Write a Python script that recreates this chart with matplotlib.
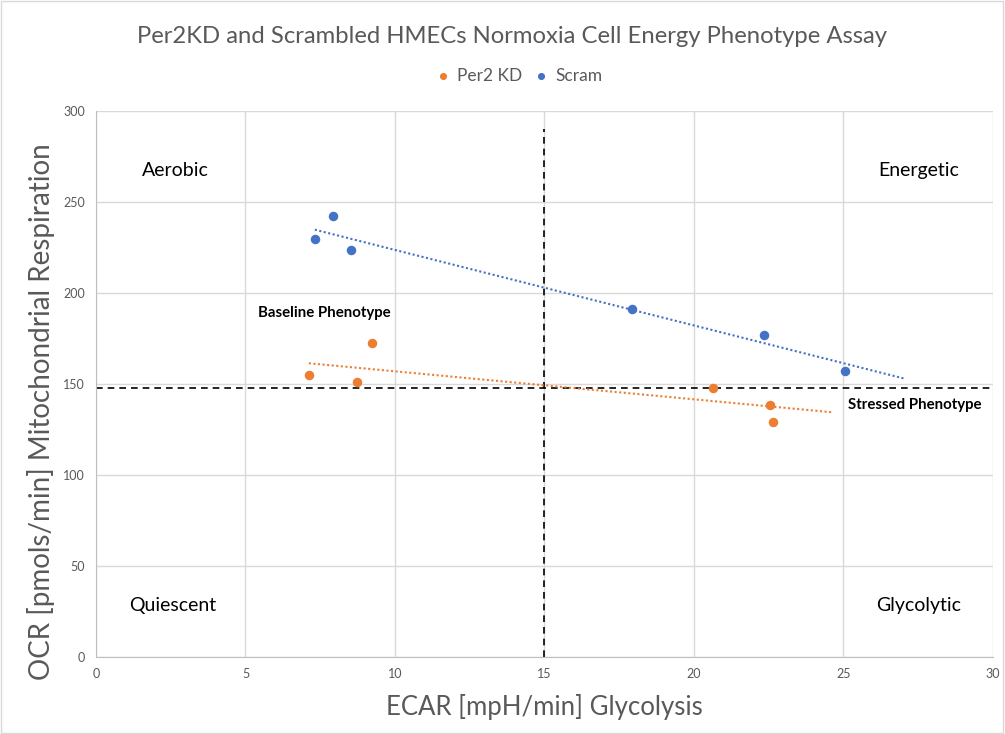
import numpy as np
import matplotlib.pyplot as plt
from matplotlib.patches import Rectangle

plt.rcParams['font.family'] = ['Lato', 'DejaVu Sans']

# values
scram_ecar = [7.32, 7.93, 8.53, 17.93, 22.34, 25.05]
scram_ocr = [229.7, 242.3, 223.6, 191.2, 176.9, 157.1]
per2_ecar = [7.12, 8.73, 9.23, 20.64, 22.54, 22.64]
per2_ocr = [154.9, 151.1, 172.5, 147.8, 138.5, 129.1]

baseline_ecar = 15.0
baseline_ocr = 147.5
forecast = 2.0

orange = '#ED7D31'
blue = '#4472C4'
grey = '#595959'

fig = plt.figure(figsize=(10.05, 7.34), dpi=100)
ax = fig.add_axes([0.0955, 0.105, 0.8925, 0.744])
fig.patches.append(Rectangle((0.001, 0.001), 0.997, 0.997, transform=fig.transFigure,
                             fill=False, edgecolor='#d9d9d9', linewidth=1))

ax.scatter(per2_ecar, per2_ocr, s=34, color=orange, label='Per2 KD', zorder=4)
ax.scatter(scram_ecar, scram_ocr, s=34, color=blue, label='Scram', zorder=4)

# linear trendlines, extended forward like Excel's forecast
for xs, ys, c in [(scram_ecar, scram_ocr, blue), (per2_ecar, per2_ocr, orange)]:
    m, b = np.polyfit(xs, ys, 1)
    tx = np.array([min(xs), max(xs) + forecast])
    ax.plot(tx, m * tx + b, linestyle=(0, (1, 1.2)), color=c, linewidth=1.5, zorder=3)

ax.axvline(baseline_ecar, ymin=0, ymax=290 / 300, color='black', linestyle=(0, (4, 3)), linewidth=1.2, zorder=2)
ax.axhline(baseline_ocr, color='black', linestyle=(0, (4, 3)), linewidth=1.2, zorder=2)

ax.set_xlim(0, 30)
ax.set_ylim(0, 300)
ax.set_xticks(range(0, 31, 5))
ax.set_yticks(range(0, 301, 50))
ax.grid(True, color='#d9d9d9', linewidth=1)
ax.set_axisbelow(True)
for s in ['top', 'right']:
    ax.spines[s].set_visible(False)
for s in ['left', 'bottom']:
    ax.spines[s].set_color('#bfbfbf')
ax.tick_params(length=0, labelsize=9, colors=grey, pad=8)

ax.text(2.67, 267, 'Aerobic', fontsize=14, ha='center', va='center')
ax.text(27.5, 267, 'Energetic', fontsize=14, ha='center', va='center')
ax.text(2.57, 28.5, 'Quiescent', fontsize=14, ha='center', va='center')
ax.text(27.5, 28.5, 'Glycolytic', fontsize=14, ha='center', va='center')
ax.text(7.63, 189, 'Baseline Phenotype', fontsize=10.8, fontweight='bold', ha='center', va='center')
ax.text(27.4, 138.5, 'Stressed Phenotype', fontsize=10.8, fontweight='bold', ha='center', va='center')

ax.set_xlabel('ECAR [mpH/min] Glycolysis', fontsize=18.5, color=grey)
ax.xaxis.set_label_coords(0.5, -0.068)
ax.set_ylabel('OCR [pmols/min] Mitochondrial Respiration', fontsize=20, color=grey)
ax.yaxis.set_label_coords(-0.046, 0.45)
fig.suptitle('Per2KD and Scrambled HMECs Normoxia Cell Energy Phenotype Assay',
             fontsize=17.2, color=grey, x=0.509, y=0.965)

ax.legend(loc='center', bbox_to_anchor=(0.47, 1.064), ncol=2, frameon=False,
          fontsize=12.5, labelcolor=grey, handletextpad=0.2, handlelength=1.2,
          columnspacing=0.5, markerscale=0.7)

fig.savefig('out.png', dpi=100)
